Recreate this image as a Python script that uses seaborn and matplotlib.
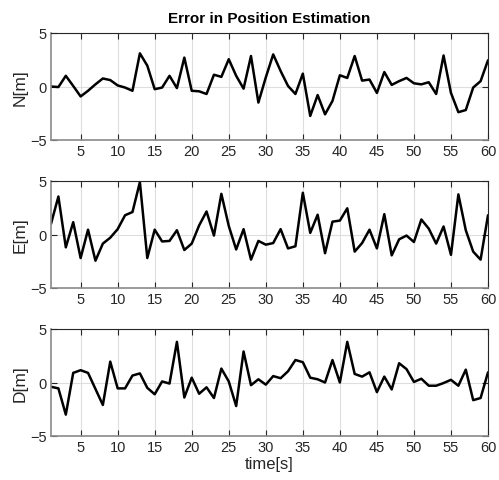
import numpy as np
import pandas as pd
import matplotlib
matplotlib.use("Agg")
import matplotlib.pyplot as plt
import seaborn as sns

time_s = list(range(1, 61))

north_err = [0.0, -0.05, 1.0, 0.05, -0.93, -0.4, 0.2, 0.75, 0.6, 0.1,
             -0.1, -0.4, 3.1, 1.95, -0.25, -0.1, 1.0, -0.15, 2.7, -0.4,
             -0.45, -0.7, 1.1, 0.9, 2.55, 1.0, -0.2, 2.85, -1.5, 0.85,
             3.0, 1.45, 0.05, -0.7, 1.2, -2.75, -0.8, -2.6, -1.35, 1.05,
             0.8, 2.85, 0.55, 0.65, -0.6, 1.35, 0.15, 0.5, 0.8, 0.3,
             0.2, 0.4, -0.7, 2.9, -0.6, -2.4, -2.2, -0.1, 0.5, 2.45]

east_err = [1.0, 3.55, -1.2, 1.15, -2.2, 0.45, -2.45, -0.85, -0.3, 0.5,
            1.8, 2.1, 4.9, -2.2, 0.45, -0.65, -0.6, 0.4, -1.45, -0.85,
            0.85, 2.15, -0.1, 3.8, 0.8, -1.4, 0.5, -2.35, -0.6, -0.95,
            -0.8, 0.5, -1.3, -1.1, 3.9, 0.15, 1.85, -1.75, 1.2, 1.3,
            2.45, -1.6, -0.8, 0.45, -1.3, 1.9, -1.95, -0.45, -0.1, -0.7,
            1.4, 0.55, -0.85, 0.75, -1.9, 3.75, 0.4, -1.6, -2.35, 1.8]

down_err = [-0.4, -0.55, -3.0, 0.9, 1.15, 0.9, -0.6, -2.1, 1.95, -0.55,
            -0.55, 0.65, 0.85, -0.5, -1.1, 0.1, -0.1, 3.8, -1.4, 0.45,
            -1.05, -0.45, -1.45, 1.3, 0.1, -2.2, 2.9, -0.25, 0.3, -0.2,
            0.6, 0.4, 1.05, 2.1, 1.9, 0.45, 0.3, 0.0, 2.1, 0.0,
            3.8, 0.8, 0.55, 0.95, -0.9, 0.55, -0.65, 1.8, 1.25, 0.05,
            0.35, -0.3, -0.3, -0.05, 0.25, -0.3, 1.2, -1.65, -1.45, 0.95]

axis_labels = ["N[m]", "E[m]", "D[m]"]
x_ticks = [5, 10, 15, 20, 25, 30, 35, 40, 45, 50, 55, 60]
y_ticks = [-5, 0, 5]

sns.set_theme(style="whitegrid")
plt.rcParams["font.family"] = ["Liberation Sans", "DejaVu Sans"]

fig = plt.figure(figsize=(4.99, 4.81), dpi=100)
W, H = 499, 481
left, right = 51, 488
tops = [34, 182, 330]
height = 107

series = [north_err, east_err, down_err]
for i, (vals, lab) in enumerate(zip(series, axis_labels)):
    top = tops[i]
    ax = fig.add_axes([left / W, 1 - (top + height) / H,
                       (right - left) / W, height / H])
    df = pd.DataFrame({"t": time_s, "err": vals})
    sns.lineplot(data=df, x="t", y="err", ax=ax, color="black", linewidth=1.8)
    ax.set_xlim(1, 60)
    ax.set_ylim(-5, 5)
    ax.set_xticks(x_ticks)
    ax.set_yticks(y_ticks)
    ax.set_xlabel("")
    ax.set_ylabel(lab, fontsize=12.5, color="#262626", labelpad=2)
    ax.grid(True, color="#dedede", linewidth=0.8)
    for name, s in ax.spines.items():
        s.set_visible(True)
        if name in ("bottom", "left"):
            s.set_color("#8a8a8a")
            s.set_linewidth(1.2)
        else:
            s.set_color("#262626")
            s.set_linewidth(0.8)
    ax.tick_params(axis="both", direction="in", length=4, width=0.8,
                   color="#262626", labelcolor="#262626", labelsize=10.5,
                   top=True, right=True, bottom=True, left=True, pad=3)
    ax.set_facecolor("white")
    if i == 0:
        ax.set_title("Error in Position Estimation", fontsize=11,
                     fontweight="bold", color="black", pad=8)
    if i == 2:
        ax.set_xlabel("time[s]", fontsize=12, color="#262626", labelpad=1)

fig.savefig("out.png", dpi=100, facecolor="white")
